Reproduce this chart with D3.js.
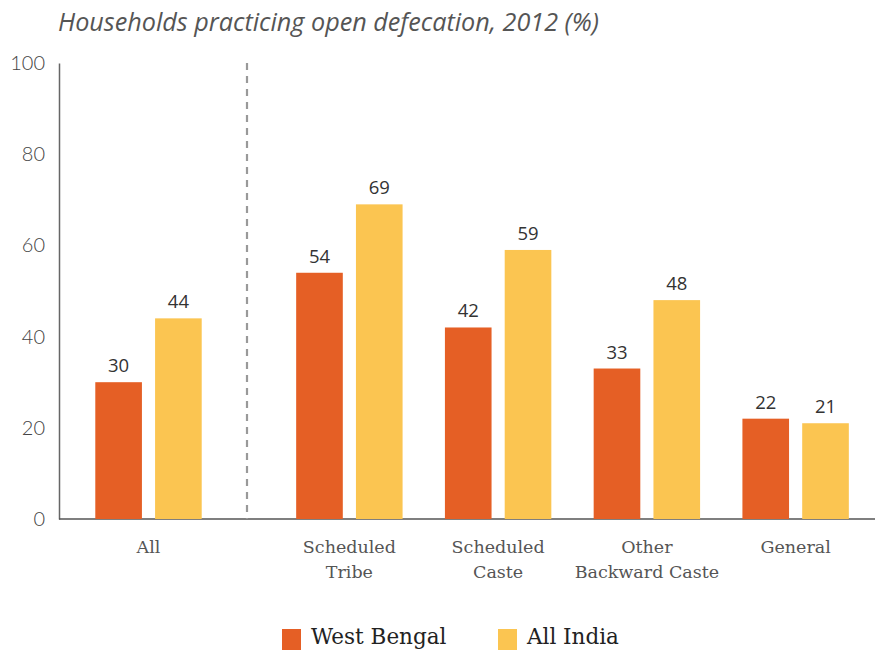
<!DOCTYPE html>
<html><head><meta charset="utf-8">
<script src="https://cdn.jsdelivr.net/npm/d3@7"></script>
<style>body{margin:0;background:#fff}svg{display:block}</style>
</head><body>
<script>
const categories = ["All", "Scheduled Tribe", "Scheduled Caste", "Other Backward Caste", "General"];
const categoryLines = [["All"], ["Scheduled", "Tribe"], ["Scheduled", "Caste"], ["Other", "Backward Caste"], ["General"]];
const seriesNames = ["West Bengal", "All India"];
const westBengal = [30, 54, 42, 33, 22];
const allIndia = [44, 69, 59, 48, 21];
const yTicks = [0, 20, 40, 60, 80, 100];
const colors = ["#E55F25", "#FBC551"];

const W = 875, H = 650;
const svg = d3.select("body").append("svg").attr("width", W).attr("height", H);

const y = d3.scaleLinear().domain([0, 100]).range([519, 63]);
const xAll = d3.scaleBand().domain(categories.slice(0, 1)).range([59, 238]);
const xMain = d3.scaleBand().domain(categories.slice(1)).range([275, 870]);
const xc = c => c === "All" ? xAll(c) + xAll.bandwidth() / 2 : xMain(c) + xMain.bandwidth() / 2;
const xs = d3.scaleBand().domain(seriesNames).range([-55, 55]).paddingInner(0.22).paddingOuter(0.03);

// title
svg.append("text").attr("x", 58).attr("y", 31)
  .attr("font-family", "Open Sans").attr("font-style", "italic").attr("font-size", 25.2)
  .attr("fill", "#555").text("Households practicing open defecation, 2012 (%)");

// y axis
const yAxis = svg.append("g").attr("transform", "translate(59,0)")
  .call(d3.axisLeft(y).tickValues(yTicks).tickSize(0).tickPadding(14));
yAxis.select(".domain").attr("stroke", "#666").attr("stroke-width", 1.5);
yAxis.selectAll("text").attr("font-family", "Lato").attr("font-weight", 300)
  .attr("font-size", 20).attr("fill", "#444");

// baseline
svg.append("line").attr("x1", 59).attr("x2", W).attr("y1", y(0)).attr("y2", y(0))
  .attr("stroke", "#555").attr("stroke-width", 1.5);

// divider
svg.append("line").attr("x1", 247).attr("x2", 247).attr("y1", y(100)).attr("y2", y(0))
  .attr("stroke", "#999").attr("stroke-width", 2.2).attr("stroke-dasharray", "7,6");

const series = [westBengal, allIndia];
series.forEach((vals, si) => {
  const g = svg.append("g");
  g.selectAll("rect").data(categories).join("rect")
    .attr("x", (c) => xc(c) + xs(seriesNames[si]))
    .attr("width", xs.bandwidth())
    .attr("y", (c, i) => y(vals[i]))
    .attr("height", (c, i) => y(0) - y(vals[i]))
    .attr("fill", colors[si]);
  g.selectAll("text").data(categories).join("text")
    .attr("x", (c) => xc(c) + xs(seriesNames[si]) + xs.bandwidth() / 2)
    .attr("y", (c, i) => y(vals[i]) - 10)
    .attr("text-anchor", "middle")
    .attr("font-family", "Open Sans").attr("font-size", 18.5).attr("fill", "#333")
    .text((c, i) => vals[i]);
});

// category labels
categories.forEach((c, i) => {
  const t = svg.append("text").attr("text-anchor", "middle")
    .attr("font-family", "DejaVu Serif").attr("font-size", 17.5).attr("fill", "#555");
  categoryLines[i].forEach((ln, j) => {
    t.append("tspan").attr("x", xc(c)).attr("y", 553 + j * 25).text(ln);
  });
});

// legend
const legX = [282, 498];
seriesNames.forEach((s, i) => {
  svg.append("rect").attr("x", legX[i]).attr("y", 629).attr("width", 19).attr("height", 24).attr("fill", colors[i]);
  svg.append("text").attr("x", legX[i] + 29).attr("y", 644)
    .attr("font-family", "DejaVu Serif").attr("font-size", 21.5).attr("fill", "#222").text(s);
});
</script>
</body></html>
